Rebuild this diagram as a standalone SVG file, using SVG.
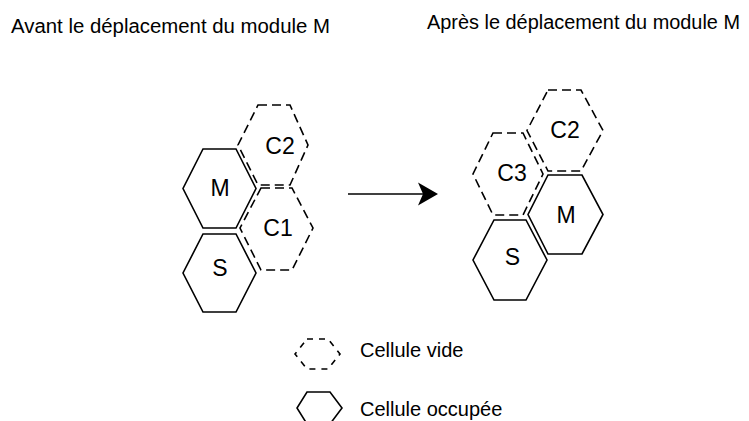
<svg xmlns="http://www.w3.org/2000/svg" width="749" height="421" viewBox="0 0 749 421">
<defs>
<style>
.solid{fill:#fff;stroke:#000;stroke-width:1.6;stroke-linejoin:miter}
.dash{fill:none;stroke:#000;stroke-width:1.6;stroke-dasharray:9 5}
.ldash{fill:none;stroke:#000;stroke-width:1.6;stroke-dasharray:6 6}
.lbl{font-family:"Liberation Sans",Arial,sans-serif;font-size:23px;fill:#000;text-anchor:middle}
.txt{font-family:"Liberation Sans",Arial,sans-serif;font-size:20px;fill:#000}
</style>
<marker id="arr" markerUnits="userSpaceOnUse" markerWidth="24" markerHeight="26" refX="5" refY="12" orient="auto">
<path d="M0,0.5 L20,12 L0,23.5 L5,12 Z" fill="#000"/>
</marker>
</defs>
<rect width="749" height="421" fill="#fff"/>
<text class="txt" x="11" y="33" textLength="319" lengthAdjust="spacingAndGlyphs">Avant le déplacement du module M</text>
<text class="txt" x="427" y="29" textLength="313" lengthAdjust="spacingAndGlyphs">Après le déplacement du module M</text>

<g id="left-M"><polygon class="solid" points="203,149 236,149 256,188.5 236,228 203,228 183,188.5"/><text class="lbl" x="220" y="196">M</text></g>
<g id="left-S"><polygon class="solid" points="203,234 236,234 256,273 236,312 203,312 183,273"/><text class="lbl" x="220" y="276">S</text></g>
<g id="left-C2"><polygon class="dash" points="258,105 290,105 308,145 290,185 258,185 238,145"/><text class="lbl" x="280" y="154">C2</text></g>
<g id="left-C1"><polygon class="dash" points="261,188 292,188 313,228 292,270 261,270 240,228"/><text class="lbl" x="278" y="236">C1</text></g>

<g id="right-C2"><polygon class="dash" points="548,90 581,90 603,130.5 581,171 548,171 527,130.5"/><text class="lbl" x="565" y="137.5">C2</text></g>
<g id="right-C3"><polygon class="dash" points="493,133 523,133 543,174 523,215 493,215 473,174"/><text class="lbl" x="512" y="181">C3</text></g>
<g id="right-M"><polygon class="solid" points="548,175 582,175 603,214.5 582,254 548,254 528,214.5"/><text class="lbl" x="566" y="222.5">M</text></g>
<g id="right-S"><polygon class="solid" points="494,220 526,220 547,260 526,300 494,300 473,260"/><text class="lbl" x="512.5" y="264.5">S</text></g>

<g id="connectors">
<line x1="348" y1="194" x2="423" y2="194" stroke="#000" stroke-width="1.6" marker-end="url(#arr)"/>
</g>

<g id="legend-empty"><polygon class="ldash" points="307,339 328,339 340,354 328,369 307,369 295,354"/><text class="txt" x="360" y="357">Cellule vide</text></g>
<g id="legend-occupied"><polygon class="solid" points="307,392 330,392 342,408 330,424 307,424 297,408"/><text class="txt" x="360" y="416">Cellule occupée</text></g>
</svg>
